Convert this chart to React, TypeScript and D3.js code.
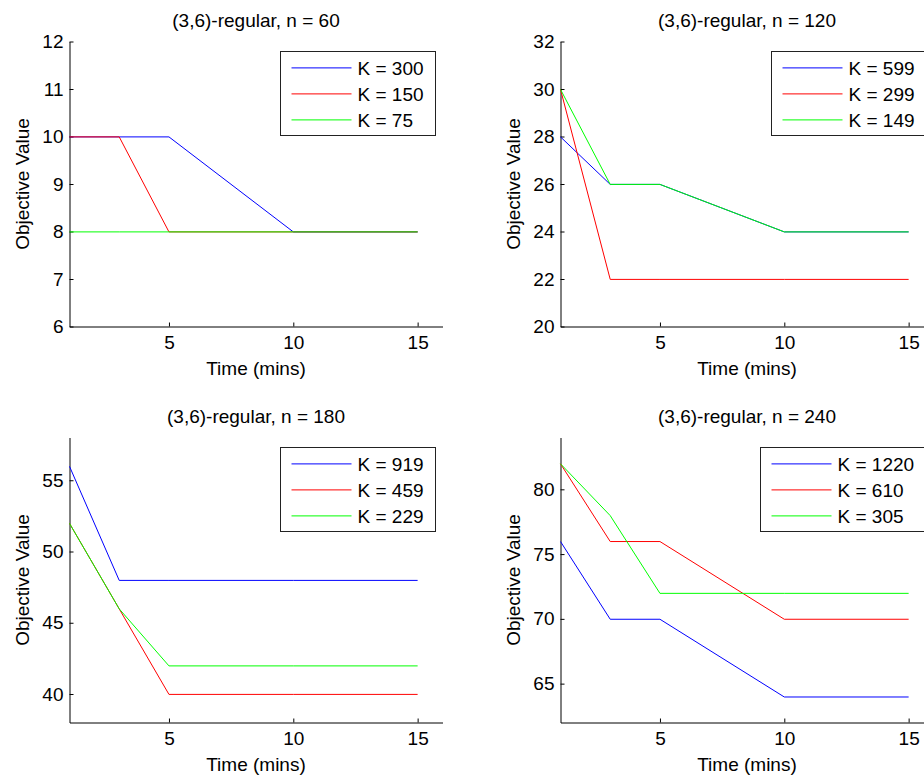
import React, { useRef, useEffect } from "react";
import * as d3 from "d3";

// time points shared by every run
const times = [1, 3, 5, 10, 15];
const xTicks = [5, 10, 15];

const titles = [
  "(3,6)-regular, n = 60",
  "(3,6)-regular, n = 120",
  "(3,6)-regular, n = 180",
  "(3,6)-regular, n = 240",
];

const kLabels = [
  ["K = 300", "K = 150", "K = 75"],
  ["K = 599", "K = 299", "K = 149"],
  ["K = 919", "K = 459", "K = 229"],
  ["K = 1220", "K = 610", "K = 305"],
];

// n = 60
const n60Blue = [10, 10, 10, 8, 8];
const n60Red = [10, 10, 8, 8, 8];
const n60Green = [8, 8, 8, 8, 8];
// n = 120
const n120Blue = [28, 26, 26, 24, 24];
const n120Red = [30, 22, 22, 22, 22];
const n120Green = [30, 26, 26, 24, 24];
// n = 180
const n180Blue = [56, 48, 48, 48, 48];
const n180Red = [52, 46, 40, 40, 40];
const n180Green = [52, 46, 42, 42, 42];
// n = 240
const n240Blue = [76, 70, 70, 64, 64];
const n240Red = [82, 76, 76, 70, 70];
const n240Green = [82, 78, 72, 72, 72];

const yDomains = [
  [6, 12],
  [20, 32],
  [38, 58],
  [62, 84],
];
const yTickLists = [
  [6, 7, 8, 9, 10, 11, 12],
  [20, 22, 24, 26, 28, 30, 32],
  [40, 45, 50, 55],
  [65, 70, 75, 80],
];

const seriesByPanel = [
  [n60Blue, n60Red, n60Green],
  [n120Blue, n120Red, n120Green],
  [n180Blue, n180Red, n180Green],
  [n240Blue, n240Red, n240Green],
];

const colors = ["#0000ff", "#ff0000", "#00ff00"];
const font = "'Liberation Sans', Arial, Helvetica, sans-serif";
const fs = 19;

const App = () => {
  const svgRef = useRef<SVGSVGElement>(null);
  const W = 924;
  const H = 777;
  const lefts = [69.5, 560.5];
  const tops = [41.5, 437.5];
  const pw = 373;
  const ph = 285;

  useEffect(() => {
    const svg = d3.select(svgRef.current);
    svg.selectAll("*").remove();

    titles.forEach((title, i) => {
      const left = lefts[i % 2];
      const top = tops[Math.floor(i / 2)];
      const g = svg.append("g").attr("transform", `translate(${left},${top})`);

      const x = d3.scaleLinear().domain([1, 16]).range([0, pw]);
      const y = d3.scaleLinear().domain(yDomains[i]).range([ph, 0]);

      // Axes, ticks pointing inward
      const xAxis = g
        .append("g")
        .attr("transform", `translate(0,${ph})`)
        .call(
          d3
            .axisBottom(x)
            .tickValues(xTicks)
            .tickFormat(d3.format("d"))
            .tickSizeInner(-4)
            .tickSizeOuter(0)
            .tickPadding(9)
        );
      const yAxis = g
        .append("g")
        .call(
          d3
            .axisLeft(y)
            .tickValues(yTickLists[i])
            .tickFormat(d3.format("d"))
            .tickSizeInner(-4)
            .tickSizeOuter(0)
            .tickPadding(6)
        );
      [xAxis, yAxis].forEach((a) => {
        a.attr("font-family", font).attr("font-size", fs);
        a.selectAll("path,line").attr("stroke", "#000");
        a.selectAll("text").attr("fill", "#000");
      });

      // Lines (slightly off the pixel grid, like the original rendering)
      const line = d3
        .line<number>()
        .x((_, j) => x(times[j]))
        .y((d) => y(d) + 0.4);
      seriesByPanel[i].forEach((vals, s) => {
        g.append("path")
          .datum(vals)
          .attr("d", line)
          .attr("fill", "none")
          .attr("stroke", colors[s])
          .attr("stroke-width", 1);
      });

      // Title
      g.append("text")
        .attr("x", pw / 2)
        .attr("y", -15)
        .attr("text-anchor", "middle")
        .attr("font-family", font)
        .attr("font-size", fs)
        .text(title);

      // X label
      g.append("text")
        .attr("x", pw / 2)
        .attr("y", ph + 48)
        .attr("text-anchor", "middle")
        .attr("font-family", font)
        .attr("font-size", fs)
        .text("Time (mins)");

      // Y label
      g.append("text")
        .attr("transform", `translate(-41,${ph / 2}) rotate(-90)`)
        .attr("text-anchor", "middle")
        .attr("font-family", font)
        .attr("font-size", fs)
        .text("Objective Value");

      // Legend, right edge anchored, width fits the longest label
      const lg = g.append("g").attr("transform", `translate(366,10)`);
      const rect = lg
        .append("rect")
        .attr("height", 84)
        .attr("fill", "#fff")
        .attr("stroke", "#222");
      const texts = kLabels[i].map((label) =>
        lg
          .append("text")
          .attr("font-family", font)
          .attr("font-size", fs)
          .text(label)
      );
      const maxW = d3.max(texts, (t) => (t.node() as SVGTextElement).getComputedTextLength()) || 66;
      const bw = Math.round(maxW + 89);
      rect.attr("x", -bw).attr("width", bw);
      kLabels[i].forEach((_, s) => {
        const ry = 16 + s * 26;
        lg.append("line")
          .attr("x1", -bw + 11)
          .attr("x2", -bw + 71)
          .attr("y1", ry + 0.4)
          .attr("y2", ry + 0.4)
          .attr("stroke", colors[s]);
        texts[s].attr("x", -bw + 77).attr("y", ry + 7);
      });
    });
  }, []);

  return (
    <svg
      ref={svgRef}
      width={W}
      height={H}
      style={{ position: "absolute", left: 0, top: 0, background: "#fff", overflow: "hidden" }}
    />
  );
};

export default App;
